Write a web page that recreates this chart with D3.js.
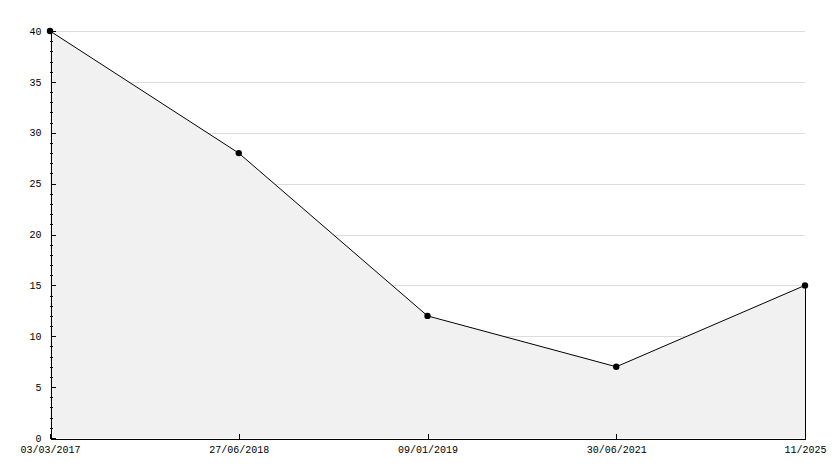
<!DOCTYPE html>
<html lang="en">
  <head>
    <meta charset="utf-8">
    <title>Line chart</title>
    <script type="text/javascript" src="https://d3js.org/d3.v7.min.js"></script>
    <style type="text/css">
    body { margin: 0; background: #fff; }
    .axis text {
      font-family: "Liberation Mono", "DejaVu Sans Mono", monospace;
      font-size: 10px;
      fill: #000;
    }
    .axis path, .axis line { stroke: #000; shape-rendering: crispEdges; }
    .grid line { stroke: #dcdcdc; shape-rendering: crispEdges; }
    </style>
  </head>
  <body>
    <svg width="834" height="468" id="chart"></svg>
    <script type="text/javascript">

// data
const dates = ["03/03/2017", "27/06/2018", "09/01/2019", "30/06/2021", "11/2025"];
const values = [40, 28, 12, 7, 15];
const yTicks = [0, 5, 10, 15, 20, 25, 30, 35, 40];
const yMinor = d3.range(0, 41, 1);

const plotL = 50, plotR = 805, plotT = 31, plotB = 438;

const svg = d3.select("#chart");

const xScale = d3.scalePoint()
    .domain(dates)
    .range([plotL, plotR]);

const yScale = d3.scaleLinear()
    .domain([0, 40])
    .range([plotB, plotT]);

// grid
svg.append("g")
    .attr("class", "grid")
    .selectAll("line")
    .data(yTicks.filter(d => d > 0))
    .enter()
    .append("line")
    .attr("x1", plotL)
    .attr("x2", plotR)
    .attr("y1", d => Math.round(yScale(d)) + 0.5)
    .attr("y2", d => Math.round(yScale(d)) + 0.5);

const pts = dates.map((d, i) => ({date: d, value: values[i]}));

const area = d3.area()
    .x(d => xScale(d.date))
    .y0(plotB)
    .y1(d => yScale(d.value));

svg.append("path")
    .datum(pts)
    .attr("d", area)
    .attr("fill", "#f1f1f1");

const line = d3.line()
    .x(d => xScale(d.date))
    .y(d => yScale(d.value));

svg.append("path")
    .datum(pts)
    .attr("d", line)
    .attr("fill", "none")
    .attr("stroke", "#000")
    .attr("stroke-width", 1);

// right edge of the filled area
const lastX = Math.round(xScale(dates[dates.length - 1])) + 0.5;
svg.append("line")
    .attr("x1", lastX)
    .attr("x2", lastX)
    .attr("y1", yScale(values[values.length - 1]))
    .attr("y2", plotB)
    .attr("stroke", "#000")
    .style("shape-rendering", "crispEdges");

// minor y ticks
svg.append("g")
    .attr("class", "axis")
    .selectAll("line")
    .data(yMinor.filter(d => d % 5 !== 0))
    .enter()
    .append("line")
    .attr("x1", plotL)
    .attr("x2", plotL + 3)
    .attr("y1", d => Math.round(yScale(d)) + 0.5)
    .attr("y2", d => Math.round(yScale(d)) + 0.5);

// y axis
const yAxis = svg.append("g")
    .attr("class", "axis")
    .attr("transform", "translate(" + (plotL + 0.5) + ",0)")
    .call(d3.axisRight(yScale).tickValues(yTicks).tickSize(5).tickSizeOuter(0));
yAxis.selectAll("text")
    .attr("x", -9)
    .style("text-anchor", "end");

// x axis
const xAxis = svg.append("g")
    .attr("class", "axis")
    .attr("transform", "translate(0," + (plotB + 0.5) + ")")
    .call(d3.axisTop(xScale).tickSize(5).tickSizeOuter(0));
xAxis.selectAll("text")
    .attr("y", 14)
    .attr("dy", 0)
    .style("text-anchor", "middle");

// points
svg.selectAll("circle.pt")
    .data(pts)
    .enter()
    .append("circle")
    .attr("class", "pt")
    .attr("cx", d => xScale(d.date))
    .attr("cy", d => yScale(d.value))
    .attr("r", 3.2)
    .attr("fill", "#000");

    </script>
  </body>
</html>
